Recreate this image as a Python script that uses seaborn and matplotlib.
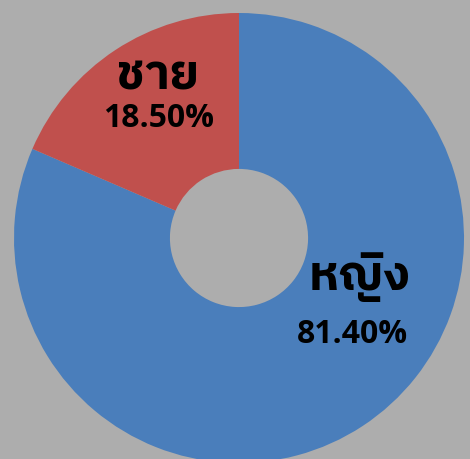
import matplotlib
matplotlib.use("Agg")
import matplotlib.pyplot as plt
import seaborn as sns

labels = ["หญิง", "ชาย"]
percents = [81.40, 18.50]
colors = ["#4a7ebb", "#c0504d"]
bg = "#adadad"

sns.set_style("white")
plt.rcParams["font.family"] = ["IBM Plex Sans Thai", "DejaVu Sans"]

fig = plt.figure(figsize=(4.7, 4.59), dpi=100, facecolor=bg)
ax = fig.add_axes([0, 0, 1, 1])
ax.set_facecolor(bg)

ax.pie(percents, colors=sns.color_palette(colors), startangle=90,
       counterclock=False, radius=1.0,
       wedgeprops=dict(width=0.693, linewidth=0))

# the chart is cropped a little on the right and bottom
ax.set_xlim(-239 / 225, 231 / 225)
ax.set_ylim(-221 / 225, 238 / 225)
ax.set_aspect("auto")
ax.axis("off")

# label positions (data coords)
name_pos = [(0.535, -0.175), (-0.36, 0.72)]
pct_pos = [(0.502, -0.428), (-0.356, 0.53)]
for lab, p, npos, ppos in zip(labels, percents, name_pos, pct_pos):
    ax.text(*npos, lab, ha="center", va="center", fontsize=35,
            fontweight="bold", color="black")
    ax.text(*ppos, f"{p:.2f}%", ha="center", va="center", fontsize=23,
            fontweight="bold", color="black", family=["Open Sans", "DejaVu Sans"])

fig.savefig("out.png", facecolor=bg)
